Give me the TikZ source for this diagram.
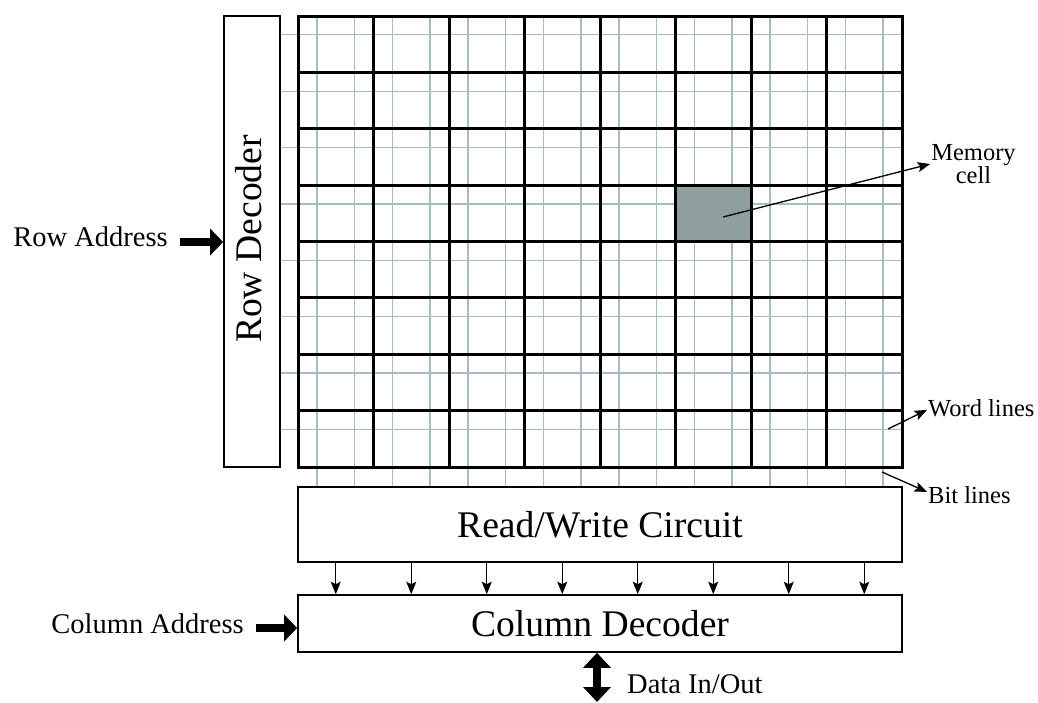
\documentclass[tikz,border=0pt]{standalone}
\usepackage{fontspec}
\setmainfont{Liberation Serif}
\usetikzlibrary{arrows.meta,calc}
\definecolor{wire}{RGB}{165,190,195}
\definecolor{cellfill}{RGB}{143,158,158}
\newcommand\fbig{\fontsize{37.6}{40}\selectfont}
\newcommand\fmid{\fontsize{28.5}{30}\selectfont}
\newcommand\fsmall{\fontsize{24.5}{22}\selectfont}
\begin{document}
\begin{tikzpicture}[x=1pt,y=-1pt,
  box/.style={draw, line width=1.6pt, inner sep=0pt},
  wireline/.style={draw=wire, line width=1.3pt},
  gridline/.style={draw=black, line width=3pt, line cap=rect},
  smallarrow/.style={draw, line width=1.3pt, -{Stealth[length=12.5pt,width=10pt,inset=2.5pt]}},
  bigarrow/.style={draw, line width=8pt, -{Triangle[length=13pt,width=26pt]}},
  dblarrow/.style={draw, line width=8pt, {Triangle[length=15pt,width=27pt]}-{Triangle[length=15pt,width=27pt]}},
  lbl/.style={inner sep=0pt}]
\useasboundingbox (0,0) rectangle (1038,702);

% bit lines
\foreach \j in {0,...,15}
  \draw[wireline] ({298+18.875+37.75*\j},16) -- ({298+18.875+37.75*\j},487);
% word lines
\foreach \i in {0,...,7}
  \draw[wireline] (280,{16+18.8+56.375*\i}) -- (902,{16+18.8+56.375*\i});

% memory cell
\node[fill=cellfill, minimum width=75.5pt, minimum height=56.375pt, inner sep=0pt, anchor=north west] (cell) at (675.5,185.125) {};

% array grid
\foreach \k in {0,...,8}
  \draw[gridline] ({298+75.5*\k},16) -- ({298+75.5*\k},467);
\foreach \k in {0,...,8}
  \draw[gridline] (298,{16+56.375*\k}) -- (902,{16+56.375*\k});

% row decoder
\node[box, minimum width=56pt, minimum height=451pt] (rowdec) at (252,241.5) {};
\node[rotate=90, font=\fbig, lbl] (rowdeclbl) at (249,239) {Row Decoder};

% read/write and column decoder
\node[box, minimum width=604pt, minimum height=75pt, font=\fbig] (rw) at (600,524.5) {Read/Write Circuit};
\node[box, minimum width=604pt, minimum height=57pt, font=\fbig] (cd) at (600,623.5) {Column Decoder};

\foreach \k in {0,...,7} {
  \coordinate (dx\k) at ({298+37.75+75.5*\k},0);
  \draw[smallarrow] (rw.south -| dx\k) -- (cd.north -| dx\k);
}

% row address
\node[font=\fmid, anchor=base east, lbl] (ra) at (168,246.7) {Row Address};
\coordinate (ras) at (180,242);
\draw[bigarrow] (ras) -- (ras -| rowdec.west);

% column address
\node[font=\fmid, anchor=base east, lbl] (ca) at (244,633) {Column Address};
\coordinate (cas) at (256,628);
\draw[bigarrow] (cas) -- (cas -| cd.west);

% data in/out
\coordinate (dio) at (597,702);
\draw[dblarrow] (cd.south -| dio) -- (dio);
\node[font=\fmid, anchor=base west, lbl] (dl) at (627,693.3) {Data In/Out};

% memory cell label
\node[font=\fsmall, align=center, inner sep=1pt] (ml) at (973.5,164) {Memory\\cell};
\coordinate (mcs) at (723,217);
\draw[smallarrow] (mcs) -- (ml.west);

% word lines / bit lines
\node[font=\fsmall, anchor=base west, inner sep=1pt] (wl) at (927,416.7) {Word lines};
\coordinate (wls) at (888,429);
\draw[smallarrow] (wls) -- ([yshift=-1.5pt]wl.west);
\node[font=\fsmall, anchor=base west, inner sep=1pt] (bl) at (927,503.3) {Bit lines};
\coordinate (bls) at (882,472);
\draw[smallarrow] (bls) -- ([yshift=3pt]bl.west);
\end{tikzpicture}
\end{document}
